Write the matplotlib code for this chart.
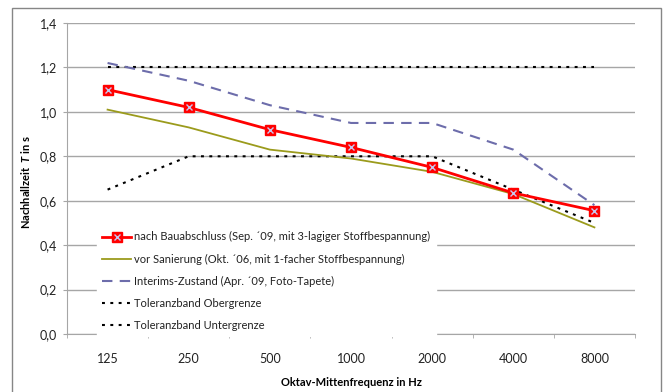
import matplotlib
matplotlib.use("Agg")
import matplotlib.pyplot as plt
import numpy as np
from matplotlib.patches import Rectangle
from matplotlib.legend_handler import HandlerTuple

plt.rcParams['font.family'] = ['Lato', 'DejaVu Sans']
plt.rcParams['mathtext.fontset'] = 'custom'
plt.rcParams['mathtext.it'] = 'Lato:bold:italic'

# Oktav-Mittenfrequenzen
freqs = ['125', '250', '500', '1000', '2000', '4000', '8000']

nach_bauabschluss = [1.10, 1.02, 0.92, 0.84, 0.75, 0.635, 0.555]
vor_sanierung = [1.01, 0.93, 0.83, 0.79, 0.73, 0.63, 0.48]
interims = [1.22, 1.14, 1.03, 0.95, 0.95, 0.83, 0.58]
obergrenze = [1.2, 1.2, 1.2, 1.2, 1.2, 1.2, 1.2]
untergrenze = [0.65, 0.8, 0.8, 0.8, 0.8, 0.65, 0.5]

y_ticks = [0.0, 0.2, 0.4, 0.6, 0.8, 1.0, 1.2, 1.4]

fig = plt.figure(figsize=(6.64, 3.92), dpi=100)
ax = fig.add_axes([67/664, 1 - 334/392, (635-67)/664, (334-23)/392])

x = np.arange(len(freqs))
grid_c = '#a6a6a6'

l_ober, = ax.plot(x, obergrenze, color='black', lw=1.5, linestyle=(0, (1.4, 2.6)), zorder=3)
l_unter, = ax.plot(x, untergrenze, color='black', lw=1.5, linestyle=(0, (1.4, 2.6)), zorder=3)
l_vor, = ax.plot(x, vor_sanierung, color='#9b9b1c', lw=1.3, zorder=4)
l_int, = ax.plot(x, interims, color='#6d6dab', lw=1.5, dashes=(5, 3.5), zorder=4)
l_nach, = ax.plot(x, nach_bauabschluss, color='#ff0000', lw=2, marker='s', ms=6.5,
                  mfc='#ff0000', mec='#ff0000', zorder=5)
l_nachx, = ax.plot(x, nach_bauabschluss, ls='none', marker='x', ms=4, mew=1,
                   color='#c8c8f0', zorder=6)

ax.set_xlim(-0.5, len(freqs) - 0.5)
ax.set_ylim(0, 1.4)
ax.set_yticks(y_ticks)
ax.set_yticklabels([f'{v:.1f}'.replace('.', ',') for v in y_ticks])
ax.set_xticks(x)
ax.set_xticklabels(freqs)
ax.set_xticks(np.arange(-0.5, len(freqs)), minor=True)
ax.tick_params(axis='x', which='major', length=0, pad=14, labelsize=9, colors='#222222')
ax.tick_params(axis='x', which='minor', length=3, color=grid_c, direction='out')
ax.tick_params(axis='y', length=3, color=grid_c, labelsize=9, labelcolor='#222222', pad=4)

ax.grid(axis='y', color=grid_c, lw=1)
ax.set_axisbelow(True)
for s in ['top', 'right']:
    ax.spines[s].set_visible(False)
for s in ['left', 'bottom']:
    ax.spines[s].set_color(grid_c)

ax.set_ylabel(r'Nachhallzeit  $\mathit{T}$ in s', fontsize=8, fontweight='bold')
ax.yaxis.set_label_coords(-0.062, 0.49)
ax.set_xlabel('Oktav-Mittenfrequenz in Hz', fontsize=8, fontweight='bold')
ax.xaxis.set_label_coords(0.5, -(383 - 334) / 311)
ax.xaxis.label.set_va('center')

leg = ax.legend([(l_nach, l_nachx), l_vor, l_int, l_ober, l_unter],
                ['nach Bauabschluss (Sep. \u00b409, mit 3-lagiger Stoffbespannung)',
                 'vor Sanierung (Okt. \u00b406, mit 1-facher Stoffbespannung)',
                 'Interims-Zustand (Apr. \u00b409, Foto-Tapete)',
                 'Toleranzband Obergrenze',
                 'Toleranzband Untergrenze'],
                handler_map={tuple: HandlerTuple(ndivide=1)},
                loc='lower left', bbox_to_anchor=(0.052, -0.008), fontsize=8,
                frameon=True, facecolor='white', edgecolor='white', framealpha=1,
                fancybox=False, labelspacing=1.0, handlelength=2.6, handletextpad=0.3,
                borderpad=0.5, borderaxespad=0.0)
leg.set_zorder(10)
for t in leg.get_texts():
    t.set_color('#222222')

fig.patches.append(Rectangle((12/664, -0.05), (661-12)/664, 1 - 8/392 + 0.05,
                             transform=fig.transFigure, fill=False,
                             edgecolor='#868686', lw=1))

fig.savefig('out.png', dpi=100)
